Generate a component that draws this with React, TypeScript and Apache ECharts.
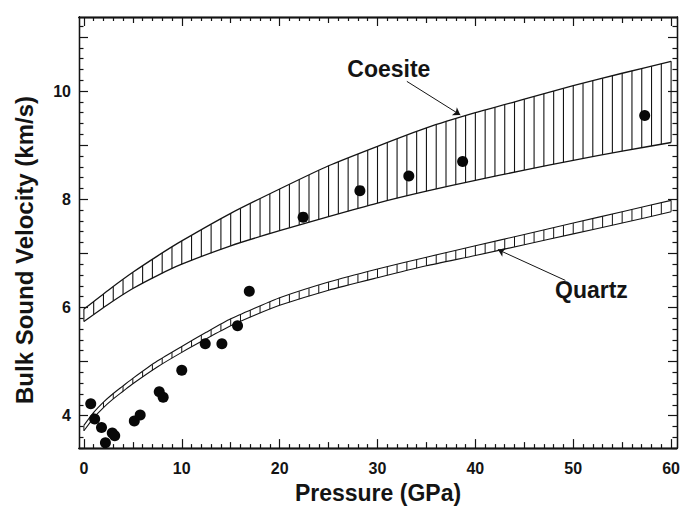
import React, { useEffect, useRef } from "react";
import * as echarts from "echarts";

// ---- data ----
const X_MIN = -0.5;
const X_MAX = 60.6;
const Y_MIN = 3.4;
const Y_MAX = 11.37;

const X_LABELS = [0, 10, 20, 30, 40, 50, 60];
const X_MID_TICKS = [5, 15, 25, 35, 45, 55];
const X_MINOR_TICKS = [
  1, 2, 3, 4, 6, 7, 8, 9, 11, 12, 13, 14, 16, 17, 18, 19, 21, 22, 23, 24, 26, 27, 28, 29,
  31, 32, 33, 34, 36, 37, 38, 39, 41, 42, 43, 44, 46, 47, 48, 49, 51, 52, 53, 54, 56, 57, 58, 59,
];
const Y_LABELS = [4, 6, 8, 10];
const Y_MAJOR_TICKS = [4, 5, 6, 7, 8, 9, 10, 11];
const Y_MINOR_TICKS = [
  3.4, 3.6, 3.8, 4.2, 4.4, 4.6, 4.8, 5.2, 5.4, 5.6, 5.8, 6.2, 6.4, 6.6, 6.8, 7.2, 7.4, 7.6, 7.8,
  8.2, 8.4, 8.6, 8.8, 9.2, 9.4, 9.6, 9.8, 10.2, 10.4, 10.6, 10.8, 11.2,
];

// Coesite band (pressure GPa, lower / upper bulk sound velocity km/s)
const COESITE_P = [0, 2.5, 5, 7.5, 10, 15, 20, 25, 30, 35, 40, 45, 50, 55, 60];
const COESITE_LOW = [5.74, 6.06, 6.35, 6.59, 6.8, 7.14, 7.42, 7.68, 7.93, 8.15, 8.35, 8.54, 8.72, 8.89, 9.05];
const COESITE_HIGH = [5.97, 6.32, 6.65, 6.95, 7.23, 7.74, 8.19, 8.62, 8.98, 9.32, 9.6, 9.85, 10.1, 10.33, 10.55];

// Quartz band
const QUARTZ_P = [0, 1, 2, 3, 4, 5, 7.5, 10, 12.5, 15, 17.5, 20, 25, 30, 35, 40, 45, 50, 55, 60];
const QUARTZ_LOW = [3.72, 3.96, 4.15, 4.31, 4.45, 4.59, 4.9, 5.17, 5.42, 5.66, 5.86, 6.04, 6.32, 6.55, 6.77, 6.96, 7.16, 7.36, 7.56, 7.77];
const QUARTZ_HIGH = [3.82, 4.06, 4.25, 4.41, 4.55, 4.69, 5.01, 5.28, 5.54, 5.79, 5.99, 6.18, 6.47, 6.71, 6.93, 7.14, 7.35, 7.56, 7.77, 7.98];

// Measured points
const POINT_P = [0.7, 1.1, 1.8, 2.2, 2.9, 3.15, 5.15, 5.75, 7.7, 8.1, 10.0, 12.4, 14.1, 15.7, 16.9, 22.4, 28.2, 33.2, 38.7, 57.3];
const POINT_V = [4.22, 3.94, 3.78, 3.5, 3.68, 3.63, 3.9, 4.01, 4.44, 4.34, 4.84, 5.33, 5.33, 5.66, 6.3, 7.67, 8.16, 8.43, 8.7, 9.55];

// Annotations (data coordinates)
const COESITE_LABEL = [31.16, 10.41];
const QUARTZ_LABEL = [51.86, 6.32];
const COESITE_ARROW = [[33.0, 10.18], [38.46, 9.56]];
const QUARTZ_ARROW = [[49.2, 6.5], [42.3, 7.07]];

const X_TITLE = "Pressure (GPa)";
const Y_TITLE = "Bulk Sound Velocity (km/s)";

const HATCH_STEP = 1;

const FONT = "'Liberation Sans', Arial, Helvetica, sans-serif";
const INK = "#141414";

function interp(xs: number[], ys: number[], x: number): number {
  if (x <= xs[0]) return ys[0];
  for (let i = 1; i < xs.length; i++) {
    if (x <= xs[i] + 1e-9) {
      const t = (x - xs[i - 1]) / (xs[i] - xs[i - 1]);
      return ys[i - 1] + t * (ys[i] - ys[i - 1]);
    }
  }
  return ys[ys.length - 1];
}

function bandRenderer(P: number[], lo: number[], hi: number[], edgeW: number, hatchW: number) {
  return (params: any, api: any) => {
    if (params.dataIndex !== 0) return null;
    const up = P.map((p, i) => api.coord([p, hi[i]]));
    const dn = P.map((p, i) => api.coord([p, lo[i]]));
    const children: any[] = [];
    const last = P[P.length - 1];
    for (let x = P[0]; x <= last + 1e-9; x += HATCH_STEP) {
      const a = api.coord([x, interp(P, lo, x)]);
      const b = api.coord([x, interp(P, hi, x)]);
      children.push({
        type: "line",
        shape: { x1: a[0], y1: a[1], x2: b[0], y2: b[1] },
        style: { stroke: INK, lineWidth: hatchW },
      });
    }
    children.push({
      type: "polyline",
      shape: { points: up, smooth: 0.2 },
      style: { stroke: INK, lineWidth: edgeW, fill: null },
    });
    children.push({
      type: "polyline",
      shape: { points: dn, smooth: 0.2 },
      style: { stroke: INK, lineWidth: edgeW, fill: null },
    });
    return { type: "group", children };
  };
}

function xAxisDef(position: "bottom" | "top", ticks: number[], len: number, withLabels: boolean) {
  const def: any = {
    type: "value",
    position,
    min: X_MIN,
    max: X_MAX,
    axisLine: { show: true, onZero: false, lineStyle: { color: INK, width: 1.3 } },
    axisTick: { show: true, inside: true, length: len, customValues: ticks, lineStyle: { color: INK, width: 1.2 } },
    splitLine: { show: false },
    axisLabel: { show: false },
  };
  if (withLabels) {
    def.axisLabel = {
      show: true,
      customValues: X_LABELS,
      margin: 12,
      fontSize: 16,
      fontWeight: "bold",
      fontFamily: FONT,
      color: INK,
      formatter: (v: number) => String(v),
    };
    def.name = X_TITLE;
    def.nameLocation = "middle";
    def.nameGap = 30;
    def.nameTextStyle = { fontSize: 23, fontWeight: "bold", fontFamily: FONT, color: INK };
  }
  return def;
}

function yAxisDef(position: "left" | "right", ticks: number[], len: number, withLabels: boolean) {
  const def: any = {
    type: "value",
    position,
    min: Y_MIN,
    max: Y_MAX,
    axisLine: { show: true, onZero: false, lineStyle: { color: INK, width: 1.3 } },
    axisTick: { show: true, inside: true, length: len, customValues: ticks, lineStyle: { color: INK, width: 1.2 } },
    splitLine: { show: false },
    axisLabel: { show: false },
  };
  if (withLabels) {
    def.axisLabel = {
      show: true,
      customValues: Y_LABELS,
      margin: 8,
      fontSize: 16,
      fontWeight: "bold",
      fontFamily: FONT,
      color: INK,
      formatter: (v: number) => String(v),
    };
  }
  return def;
}

export default function App() {
  const ref = useRef<HTMLDivElement>(null);

  useEffect(() => {
    if (!ref.current) return;
    const chart = echarts.init(ref.current, undefined, { renderer: "svg" });
    const points = POINT_P.map((p, i) => [p, POINT_V[i]]);

    chart.setOption({
      animation: false,
      backgroundColor: "#ffffff",
      grid: { left: 79, right: 4, top: 17, bottom: 51, containLabel: false },
      graphic: [
        {
          type: "text",
          x: 24,
          y: 250,
          rotation: Math.PI / 2,
          silent: true,
          style: {
            text: Y_TITLE,
            fontSize: 24,
            fontWeight: "bold",
            fontFamily: FONT,
            fill: INK,
            align: "center",
            verticalAlign: "middle",
          },
        },
      ],
      xAxis: [
        xAxisDef("bottom", X_LABELS, 9, true),
        xAxisDef("bottom", X_MID_TICKS, 6, false),
        xAxisDef("bottom", X_MINOR_TICKS, 4, false),
        xAxisDef("top", X_LABELS, 9, false),
        xAxisDef("top", X_MID_TICKS, 6, false),
        xAxisDef("top", X_MINOR_TICKS, 4, false),
      ],
      yAxis: [
        yAxisDef("left", Y_MAJOR_TICKS, 9, true),
        yAxisDef("left", Y_MINOR_TICKS, 4.5, false),
        yAxisDef("right", Y_MAJOR_TICKS, 9, false),
        yAxisDef("right", Y_MINOR_TICKS, 4.5, false),
      ],
      series: [
        {
          type: "custom",
          name: "Coesite",
          xAxisIndex: 0,
          yAxisIndex: 0,
          silent: true,
          data: [[COESITE_P[0], COESITE_LOW[0]]],
          renderItem: bandRenderer(COESITE_P, COESITE_LOW, COESITE_HIGH, 1.3, 1.1),
        },
        {
          type: "custom",
          name: "Quartz",
          xAxisIndex: 0,
          yAxisIndex: 0,
          silent: true,
          data: [[QUARTZ_P[0], QUARTZ_LOW[0]]],
          renderItem: bandRenderer(QUARTZ_P, QUARTZ_LOW, QUARTZ_HIGH, 1.1, 1.0),
        },
        {
          type: "scatter",
          name: "Measured",
          xAxisIndex: 0,
          yAxisIndex: 0,
          symbol: "circle",
          symbolSize: 11,
          itemStyle: { color: "#080808", opacity: 1 },
          silent: true,
          data: points,
          markLine: {
            silent: true,
            symbol: ["none", "arrow"],
            symbolSize: 7,
            lineStyle: { color: INK, width: 1, type: "solid" },
            label: { show: false },
            data: [
              [{ coord: COESITE_ARROW[0] }, { coord: COESITE_ARROW[1] }],
              [{ coord: QUARTZ_ARROW[0] }, { coord: QUARTZ_ARROW[1] }],
            ],
          },
          markPoint: {
            silent: true,
            symbol: "circle",
            symbolSize: 0,
            label: {
              show: true,
              position: "inside",
              formatter: "{b}",
              fontSize: 23,
              fontWeight: "bold",
              fontFamily: FONT,
              color: INK,
            },
            data: [
              { name: "Coesite", coord: COESITE_LABEL },
              { name: "Quartz", coord: QUARTZ_LABEL },
            ],
          },
        },
      ],
    });

    return () => chart.dispose();
  }, []);

  return (
    <div
      ref={ref}
      style={{ position: "fixed", left: 0, top: 0, width: 683, height: 509, background: "#fff" }}
    />
  );
}
